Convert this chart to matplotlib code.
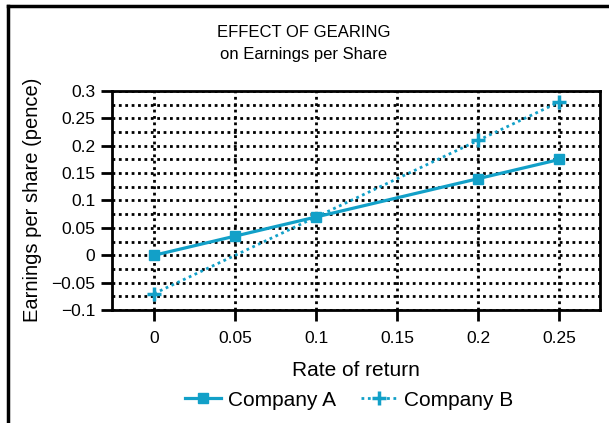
import matplotlib
matplotlib.use("Agg")
import matplotlib.pyplot as plt
from matplotlib.lines import Line2D
from matplotlib.ticker import MultipleLocator

plt.rcParams['font.family'] = ['Liberation Sans', 'DejaVu Sans']

title_lines = ["EFFECT OF GEARING", "on Earnings per Share"]
x_label = "Rate of return"
y_label = "Earnings per share (pence)"
series_names = ["Company A", "Company B"]

x_values = [0, 0.05, 0.1, 0.15, 0.2, 0.25]
company_a = [0, 0.035, 0.07, 0.105, 0.14, 0.175]
company_b = [-0.07, 0.0, 0.07, 0.14, 0.21, 0.28]
a_marked = [0, 1, 2, 4, 5]
b_marked = [0, 4, 5]

x_ticks = [0, 0.05, 0.1, 0.15, 0.2, 0.25]
x_tick_labels = ["0", "0.05", "0.1", "0.15", "0.2", "0.25"]
y_ticks = [-0.1, -0.05, 0, 0.05, 0.1, 0.15, 0.2, 0.25, 0.3]
y_tick_labels = ["\u22120.1", "\u22120.05", "0", "0.05", "0.1", "0.15", "0.2", "0.25", "0.3"]

color = "#12a0c8"
W, H = 609, 423

fig = plt.figure(figsize=(W / 100, H / 100), dpi=100)
ax = fig.add_axes([112 / W, 1 - 310 / H, (600 - 112) / W, (310 - 91) / H])

ax.plot(x_values, company_a, color=color, lw=2.3, marker='s', ms=7,
        markevery=a_marked, solid_capstyle='butt')
ax.plot(x_values, company_b, color=color, lw=2.0, ls=(0, (1, 1.3)), marker='+', ms=10,
        mew=2.5, markevery=b_marked)

ax.set_xlim(-0.026, 0.275)
ax.set_ylim(-0.1, 0.3)
ax.set_xticks(x_ticks)
ax.set_xticklabels(x_tick_labels)
ax.set_yticks(y_ticks)
ax.set_yticklabels(y_tick_labels)
ax.yaxis.set_minor_locator(MultipleLocator(0.025))

ax.tick_params(axis='both', which='major', direction='out', length=8, width=2,
               labelsize=12.5, pad=4)
ax.tick_params(axis='y', which='minor', length=0)
ax.tick_params(axis='x', pad=7)

ax.grid(True, which='major', axis='x', color='black', ls=(0, (1, 1.3)), lw=2)
ax.grid(True, which='both', axis='y', color='black', ls=(0, (1, 1.3)), lw=2)
ax.set_axisbelow(True)

for s in ax.spines.values():
    s.set_linewidth(2)

fig.text(304 / W, 1 - 37 / H, title_lines[0], ha='center', va='baseline', fontsize=12)
fig.text(304 / W, 1 - 59 / H, title_lines[1], ha='center', va='baseline', fontsize=12)
fig.text(356 / W, 1 - 376 / H, x_label, ha='center', va='baseline', fontsize=15)
fig.text(33 / W, 1 - 200 / H, y_label, ha='center', va='center', rotation=90, fontsize=14.5)

handles = [
    Line2D([], [], color=color, lw=2.3, marker='s', ms=7),
    Line2D([], [], color=color, lw=2.0, ls=(0, (1, 1.3)), marker='+', ms=10, mew=2.5),
]
fig.legend(handles, series_names, loc='center', bbox_to_anchor=(349 / W, 1 - 400 / H),
           ncol=2, frameon=False, fontsize=15, handlelength=1.7, columnspacing=1.2,
           handletextpad=0.35, borderaxespad=0, borderpad=0)

# figure border lines (top and left)
fig.add_artist(Line2D([7.5 / W, 7.5 / W], [0, 1 - 6 / H], transform=fig.transFigure,
                      color='black', lw=2.5))
fig.add_artist(Line2D([7.5 / W, 1], [1 - 6 / H, 1 - 6 / H], transform=fig.transFigure,
                      color='black', lw=2.5))

fig.savefig("out.png", dpi=100)
